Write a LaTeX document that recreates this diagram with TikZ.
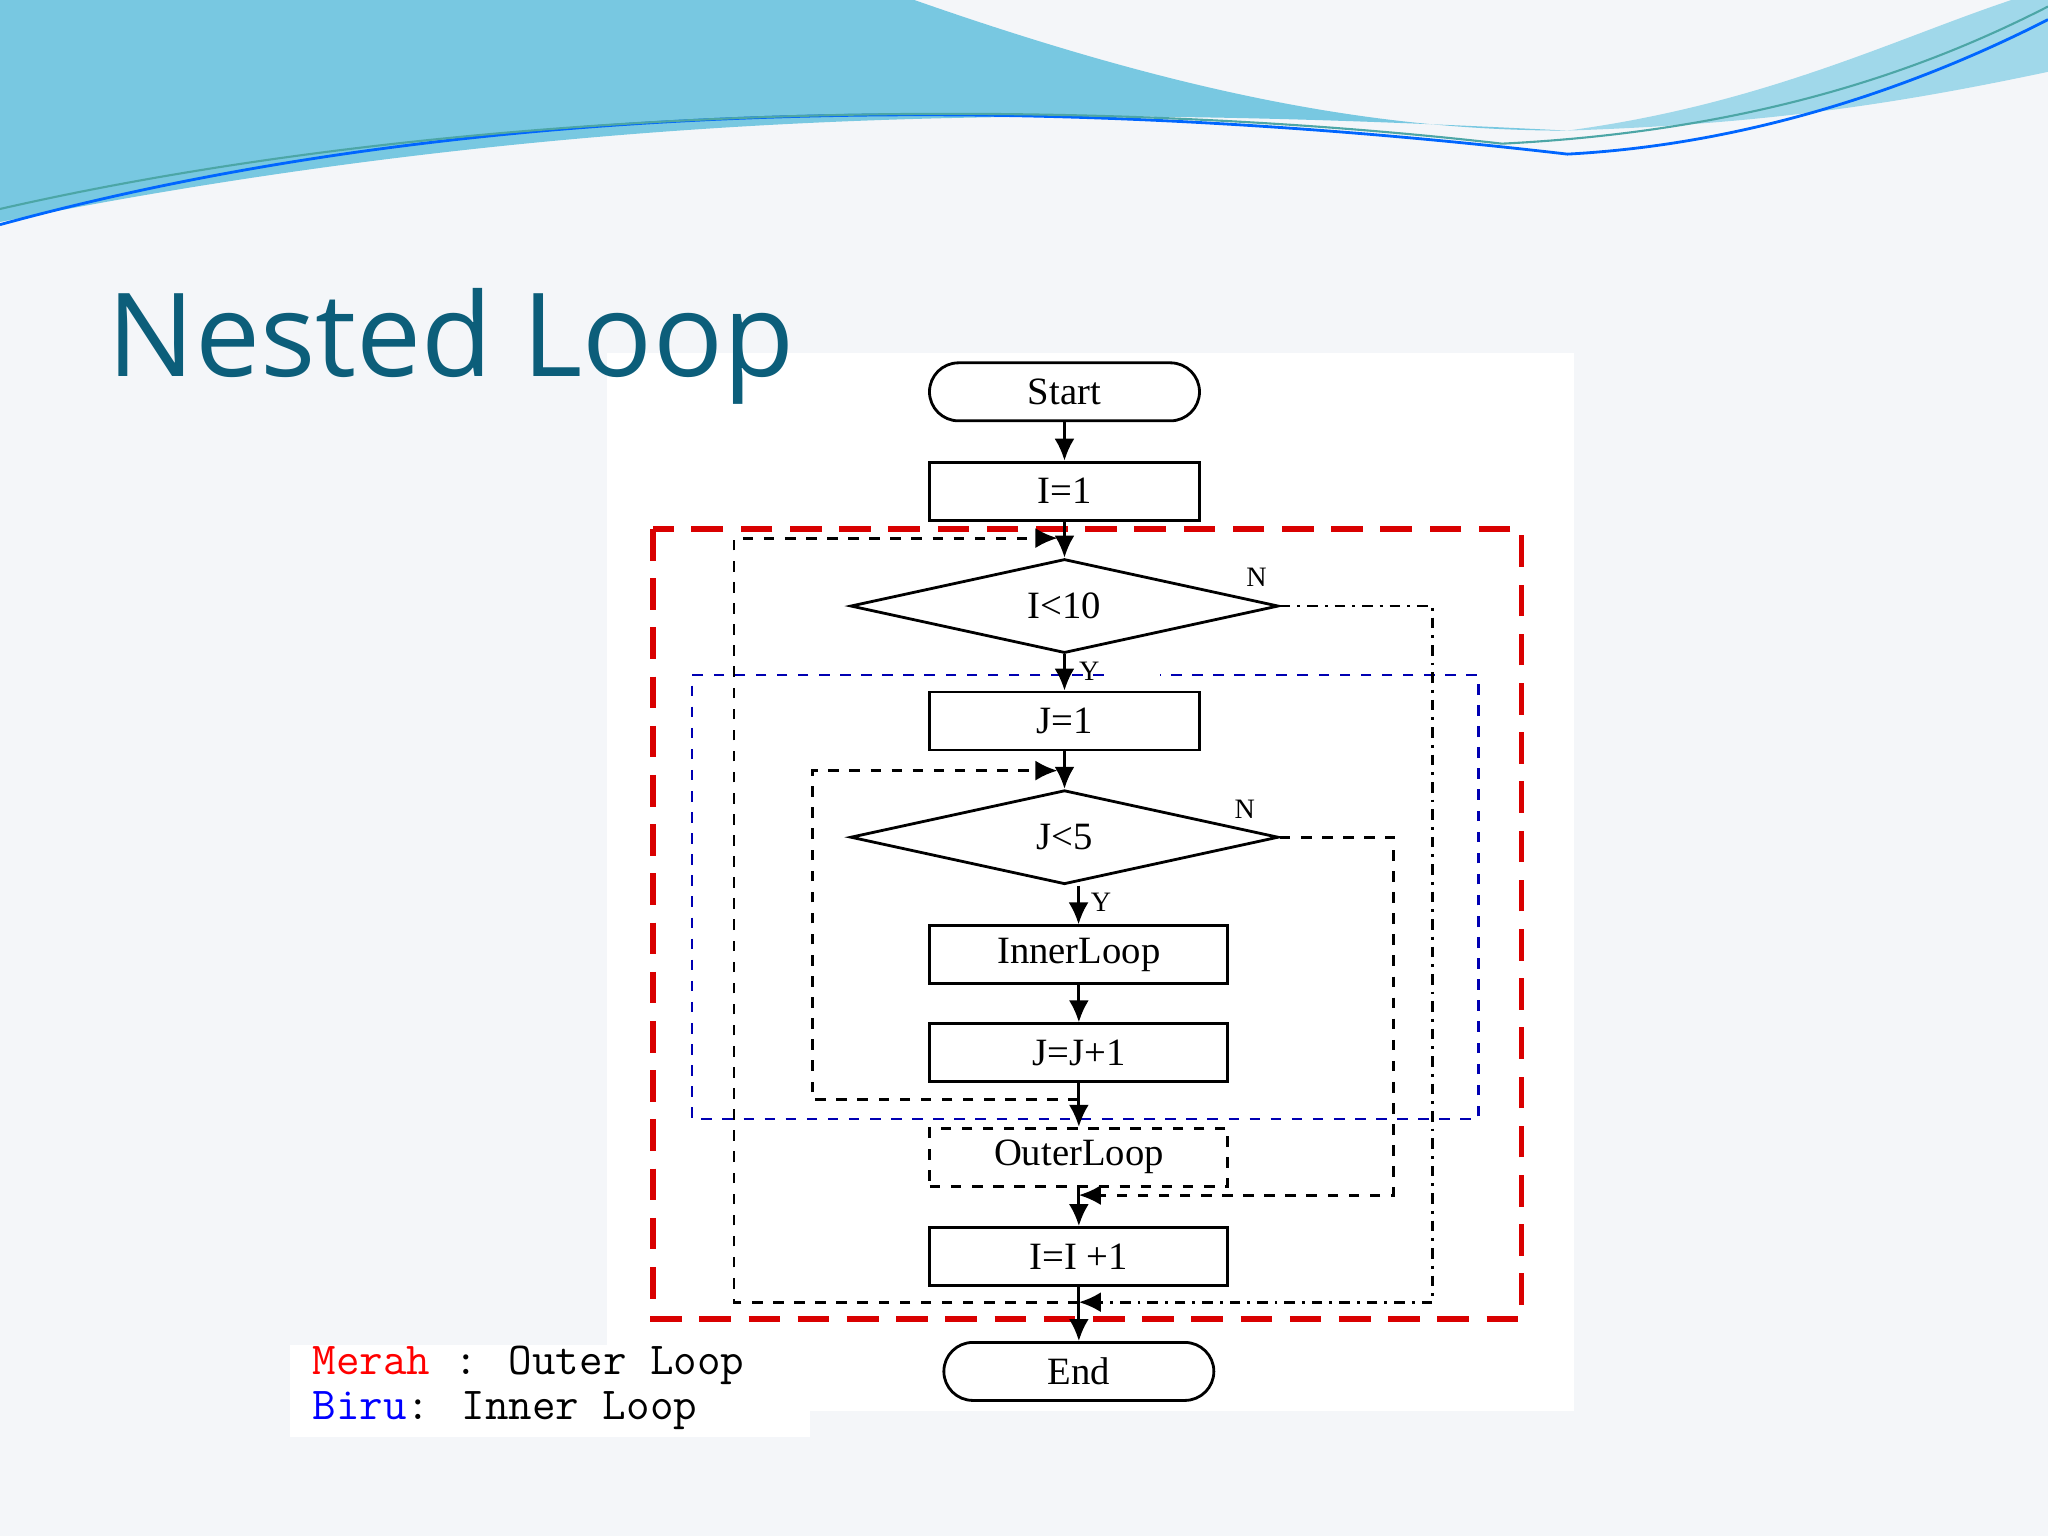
\documentclass[tikz,border=0pt]{standalone}
\usepackage{fontspec}
\setmainfont{Liberation Serif}
\newfontfamily\titlefont{Open Sans}
\usetikzlibrary{positioning,arrows.meta,shapes.geometric}
\definecolor{titleblue}{RGB}{12,94,122}
\definecolor{slidebg}{RGB}{244,246,249}
\definecolor{wave}{RGB}{120,200,225}
\tikzset{
  box/.style={draw,thick,minimum width=2.7cm,minimum height=0.58cm,font=\fontsize{11}{13}\selectfont},
  term/.style={box,rounded corners=0.29cm},
  dec/.style={draw,thick,diamond,aspect=4.5,minimum width=4.28cm,minimum height=0.94cm,inner sep=0pt,font=\fontsize{11}{13}\selectfont},
  arr/.style={thick,-{Latex[length=2.2mm,width=2mm]}},
  back/.style={thick,dashed,-{Latex[length=2.2mm,width=2mm]}},
  lbl/.style={font=\fontsize{8}{9}\selectfont}
}
\begin{document}
\begin{tikzpicture}[x=0.013061cm,y=-0.013061cm]
\useasboundingbox (0,0) rectangle (1568,1176);
\fill[slidebg] (0,0) rectangle (1568,1176);
% top wave
\fill[wave] (0,0) -- (700,0) .. controls (900,70) and (1050,100) .. (1200,100)
  .. controls (900,85) and (500,70) .. (0,170) -- cycle;
\fill[wave!70] (1568,0) -- (1568,55) .. controls (1450,80) and (1350,95) .. (1200,100)
  .. controls (1350,80) and (1450,30) .. (1540,0) -- cycle;
\draw[blue!60!cyan,thick] (0,172) .. controls (300,90) and (700,60) .. (1200,118) .. controls (1350,110) and (1480,60) .. (1568,15);
\draw[teal!70,semithick] (0,160) .. controls (350,80) and (800,70) .. (1150,110) .. controls (1350,100) and (1480,50) .. (1568,5);
% chart area
\fill[white] (465,270) rectangle (1205,1080);
\fill[white] (222,1030) rectangle (620,1100);
\node[anchor=base west,inner sep=0pt,text=titleblue,font=\titlefont\fontsize{33}{36}\selectfont] (title) at (82,288) {Nested Loop};
\draw[red!85!black,line width=1.6pt,dash pattern=on 9pt off 5pt] (500,405) rectangle (1165,1010);
\draw[blue!70!black,semithick,dashed] (845,517) -- (530,517) -- (530,857) -- (1132,857) -- (1132,517) -- (888,517);
% nodes
\node[term] (start) at (815,300) {Start};
\node[box] (i1) at (815,376) {I=1};
\node[dec] (d1) at (815,464) {I<10};
\node[box] (j1) at (815,552) {J=1};
\node[dec] (d2) at (815,641) {J<5};
\node[box,minimum width=2.98cm] (inner) at (826,731) {InnerLoop};
\node[box,minimum width=2.98cm] (jinc) at (826,806) {J=J+1};
\node[box,dashed,minimum width=2.98cm] (outer) at (826,886) {OuterLoop};
\node[box,minimum width=2.98cm] (iinc) at (826,962) {I=I +1};
\node[term] (end) at (826,1050) {End};
\node[lbl] (n1) at (962,442) {N};
\node[lbl] (y1) at (834,514) {Y};
\node[lbl] (n2) at (953,620) {N};
\node[lbl] (y2) at (843,691) {Y};
\coordinate (m1) at (815,412);
\coordinate (m2) at (815,590);
\coordinate (m3) at (826,842);
\coordinate (m4) at (826,915);
\coordinate (m5) at (826,997);
% connectors
\draw[arr] (start) -- (i1);
\draw[arr] (i1) -- (d1.north);
\draw[arr] (d1.south) -- (j1);
\draw[arr] (j1) -- (d2.north);
\draw[arr] (d2.south) ++(4pt,0) coordinate (d2s) -- (d2s |- inner.north);
\draw[arr] (inner) -- (jinc);
\draw[arr] (jinc) -- (outer.north);
\draw[arr] (outer) -- (iinc);
\draw[arr] (iinc) -- (end.north);
\draw[back] (m3) -| (622,590) -- ([xshift=-2pt]m2);
\draw[back] (d2.east) -| (1067,915) -- (m4);
\draw[back] (m5) -| (562,412) -- ([xshift=-2pt]m1);
\draw[thick,dash dot,-{Latex[length=2.2mm,width=2mm]}] (d1.east) -| (1097,997) -- (m5);
% legend
\node[anchor=west,font=\ttfamily\fontsize{13}{15}\selectfont] (leg1) at (230,1045) {\textcolor{red}{Merah} : Outer Loop};
\node[anchor=west,font=\ttfamily\fontsize{13}{15}\selectfont] (leg2) at (230,1080) {\textcolor{blue}{Biru}: Inner Loop};
\end{tikzpicture}
\end{document}
